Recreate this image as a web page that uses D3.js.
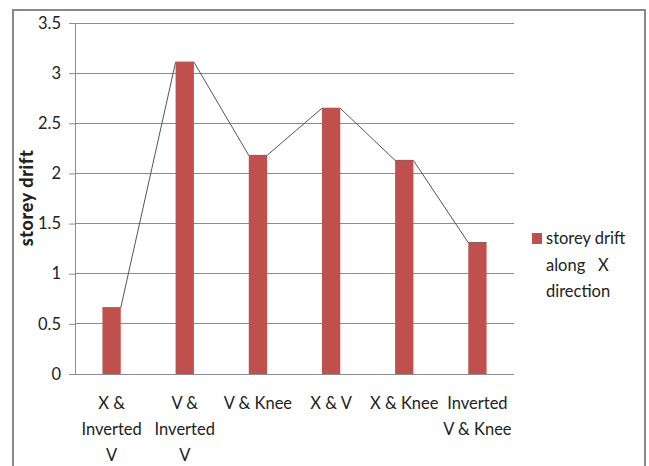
<!DOCTYPE html>
<html>
<head>
<meta charset="utf-8">
<script src="https://cdn.jsdelivr.net/npm/d3@7"></script>
<style>
  html, body { margin: 0; padding: 0; background: #fff; }
  svg { display: block; }
  text { font-family: Lato, "Open Sans", "Liberation Sans", sans-serif; fill: #222; }
</style>
</head>
<body>
<svg id="chart" width="649" height="466"></svg>
<script>
// Bracing configurations (multi-line labels) and their storey drift values
const categories = [
  ["X &", "Inverted", "V"],
  ["V &", "Inverted", "V"],
  ["V & Knee"],
  ["X & V"],
  ["X & Knee"],
  ["Inverted", "V & Knee"]
];
const drift = [0.66, 3.11, 2.18, 2.65, 2.13, 1.31];
const yTicks = [0, 0.5, 1, 1.5, 2, 2.5, 3, 3.5];
const yTitle = "storey drift";
const legendLines = ["storey drift", "along   X", "direction"];

const svg = d3.select("#chart");
const W = 649, H = 466;
const plot = { left: 75, right: 514, top: 23, bottom: 374 };
const barColor = "#C0504D";
const fontSize = 16.5;

// Outer frame
svg.append("path")
  .attr("d", `M13,${H} V10 H645 V${H}`)
  .attr("fill", "none").attr("stroke", "#888").attr("stroke-width", 2);

const idx = d3.range(categories.length);
const x = d3.scaleBand().domain(idx).range([plot.left, plot.right]).paddingInner(0.75).paddingOuter(0.375);
const y = d3.scaleLinear().domain([0, 3.5]).range([plot.bottom, plot.top]);

// Horizontal gridlines
svg.append("g").selectAll("line").data(yTicks).join("line")
  .attr("x1", plot.left).attr("x2", plot.right)
  .attr("y1", d => y(d)).attr("y2", d => y(d))
  .attr("stroke", "#8c8c8c").attr("stroke-width", 1).attr("shape-rendering", "crispEdges");

// Y axis with outward ticks
const yAxis = svg.append("g").attr("transform", `translate(${plot.left},0)`)
  .call(d3.axisLeft(y).tickValues(yTicks).tickSize(6).tickPadding(8).tickFormat(d3.format("")));
yAxis.select(".domain").attr("stroke", "#8c8c8c");
yAxis.selectAll(".tick line").attr("stroke", "#8c8c8c");
yAxis.selectAll(".tick text").attr("font-size", fontSize).attr("fill", "#222")
  .style("font-family", "Lato, \"Open Sans\", sans-serif");

// Y axis title
svg.append("text")
  .attr("transform", `translate(33,198) rotate(-90)`)
  .attr("text-anchor", "middle")
  .attr("font-size", 18).attr("font-weight", "900")
  .attr("letter-spacing", 0.6)
  .attr("fill", "#111")
  .text(yTitle);

// Connecting line over bar top corners
const linePts = [];
idx.forEach(i => {
  linePts.push([x(i), y(drift[i])]);
  linePts.push([x(i) + x.bandwidth(), y(drift[i])]);
});
svg.append("path")
  .datum(linePts)
  .attr("d", d3.line())
  .attr("fill", "none").attr("stroke", "#555").attr("stroke-width", 1);

// Bars
svg.append("g").selectAll("rect").data(idx).join("rect")
  .attr("x", i => x(i)).attr("width", x.bandwidth())
  .attr("y", i => y(drift[i])).attr("height", i => y(0) - y(drift[i]))
  .attr("fill", barColor);

// Baseline
svg.append("line")
  .attr("x1", plot.left - 6).attr("x2", plot.right)
  .attr("y1", y(0)).attr("y2", y(0))
  .attr("stroke", "#8c8c8c").attr("shape-rendering", "crispEdges");

// Category labels
const xl = svg.append("g");
idx.forEach(i => {
  const t = xl.append("text")
    .attr("x", x(i) + x.bandwidth() / 2).attr("y", 409)
    .attr("text-anchor", "middle").attr("font-size", fontSize);
  categories[i].forEach((line, k) => {
    t.append("tspan").attr("x", x(i) + x.bandwidth() / 2).attr("dy", k === 0 ? 0 : 26).text(line);
  });
});

// Legend
svg.append("rect").attr("x", 532).attr("y", 233).attr("width", 10).attr("height", 11).attr("fill", barColor);
const lg = svg.append("text").attr("x", 546).attr("y", 244).attr("font-size", fontSize);
legendLines.forEach((line, k) => {
  lg.append("tspan").attr("x", 546).attr("dy", k === 0 ? 0 : 26.5).attr("xml:space", "preserve").text(line);
});
</script>
</body>
</html>
